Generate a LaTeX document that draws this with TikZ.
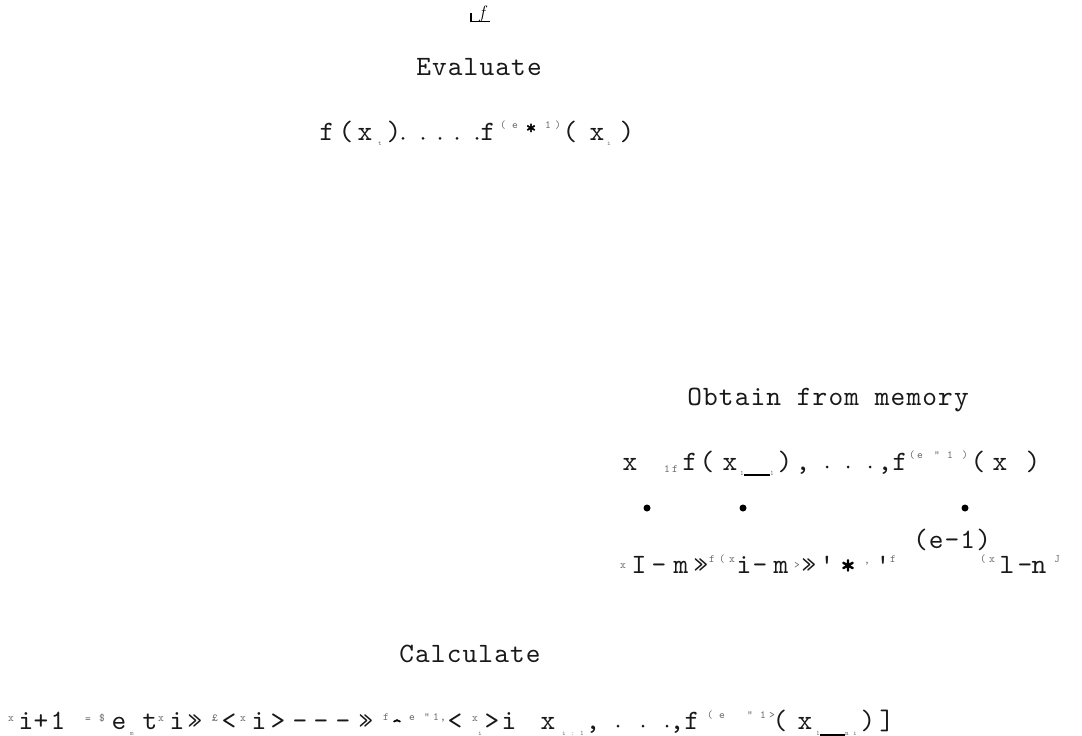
\documentclass[tikz,border=0pt]{standalone}
\usepackage{fontspec}
\newfontfamily\ocrtt{lmmono10-regular.otf}
\newfontfamily\ocrttsp[LetterSpace=4]{lmmono10-regular.otf}
\newfontfamily\ocrttb[FakeBold=2]{lmmono10-regular.otf}
\newcommand\ocrglyph[1]{\makebox[9pt]{#1}}
\begin{document}
\begin{tikzpicture}[x=1pt, y=-1pt,
  ocrword/.style = {anchor=base, inner sep=0pt, text=black!90, font=\ocrttsp\fontsize{28}{32}\selectfont},
  ocrbig/.style = {anchor=base, inner sep=0pt, text=black!90, font=\ocrtt\fontsize{28}{32}\selectfont},
  ocrsmall/.style = {anchor=base, inner sep=0pt, text=black!60, font=\ocrtt\fontsize{11}{12}\selectfont},
  ocrtiny/.style = {anchor=base, inner sep=0pt, text=black!60, font=\ocrtt\fontsize{7}{8}\selectfont},
  ocrstar/.style = {anchor=base, inner sep=0pt, font=\ocrttb\fontsize{20}{24}\selectfont},
  ocrdot/.style = {circle, fill=black, inner sep=0pt, minimum size=7pt},
  ocrperiod/.style = {circle, fill=black!90, inner sep=0pt, minimum size=3pt}
]
  \useasboundingbox (0,0) rectangle (1082,736);
  % mark at the top
  \node[anchor=base, inner sep=0pt, font=\fontsize{18}{20}\selectfont\itshape] (topf) at (482,19) {f};
  \draw[line width=1.2pt] (471,13) |- (490,21.5);
  % evaluate
  \node[ocrword] (eval) at (479,75) {Evaluate};
  \foreach \x/\c [count=\k] in {327/f,346/(,365/x,394/),488/f,570/(,597/x,627/)}
    \node[ocrbig] (ev\k) at (\x,140) {\ocrglyph{\c}};
  \foreach \x [count=\k] in {403,423,440,457,477}
    \node[ocrperiod] (evd\k) at (\x,138.4) {};
  \foreach \x/\c [count=\k] in {503/(,515/e,548/1,558/)}
    \node[ocrsmall] (evs\k) at (\x,128) {\c};
  \node[ocrstar] (evstar) at (531,134) {*};
  \node[ocrtiny] (evt) at (380,145) {t};
  \node[ocrtiny] (evi) at (609,145) {i};
  % obtain from memory
  \node[ocrword] (obtain) at (828,405) {Obtain from memory};
  \foreach \x/\c [count=\k] in {630/x,690/f,707/(,730/x,785/),803/{,},885/{,},900/f,978/(,1000/x,1033/)}
    \node[ocrbig] (ob\k) at (\x,470) {\ocrglyph{\c}};
  \foreach \x [count=\k] in {827,848,870}
    \node[ocrperiod] (obd\k) at (\x,467) {};
  \foreach \x/\c [count=\k] in {667/1,675/f}
    \node[ocrsmall] (obl\k) at (\x,472) {\c};
  \foreach \x/\c [count=\k] in {912/(,920/e,937/",950/1,965/)}
    \node[ocrsmall] (obs\k) at (\x,458) {\c};
  \foreach \x/\c [count=\k] in {742/1,772/1}
    \node[ocrtiny] (obt\k) at (\x,475) {\c};
  \draw[line width=1.4pt] (obt1.base east) -- (obt2.base west);
  \foreach \x [count=\k] in {647,743,965}
    \node[ocrdot] (bul\k) at (\x,508) {};
  \node[ocrword] (eminus) at (952,548) {(e-1)};
  \foreach \x/\c [count=\k] in {639/I,659/-,681/m,701/»,744/i,760/-,781/m,809/»,827/',883/',1007/l,1025/-,1039/n}
    \node[ocrbig] (mr\k) at (\x,573) {\ocrglyph{\c}};
  \foreach \x/\c/\y [count=\k] in {623/x/568,712/f/562,722/(/562,732/x/562,797/>/568,867/{,}/563,893/f/562,983/(/562,992/x/562,1057/J/562}
    \node[ocrsmall] (mrs\k) at (\x,\y) {\c};
  \node[ocrstar, font=\ocrttb\fontsize{28}{30}\selectfont] (mrstar) at (848,574) {*};
  % calculate
  \node[ocrword] (calc) at (470,662) {Calculate};
  \foreach \x/\c [count=\k] in {26/i,41/+,58/1,119/e,150/t,177/i,195/»,229/<,259/i,278/>,300/-,321/-,343/-,366/»,455/<,492/>,509/i,548/x,593/{,},677/{,},692/f,780/(,805/x,868/),887/]}
    \node[ocrbig] (cl\k) at (\x,729) {\ocrglyph{\c}};
  \foreach \x [count=\k] in {618,643,667}
    \node[ocrperiod] (cld\k) at (\x,726) {};
  \foreach \x/\c/\y [count=\k] in {11/x/721,88/=/722,102/\$/721,161/x/721,215/£/721,243/x/721,386/f/720,412/e/720,427/"/720,436/1/720,443/{,}/720,475/x/721,710/(/718,722/e/718,750/"/718,763/1/718,772/>/718}
    \node[ocrsmall] (cls\k) at (\x,\y) {\c};
  \foreach \x/\c [count=\k] in {132/m,480/i,564/i,573/:,582/1,818/1,847/n,855/i}
    \node[ocrtiny] (clt\k) at (\x,735) {\c};
  \draw[line width=1.4pt] (clt6.base east) -- (clt7.base west);
  \node[ocrstar] (clcaret) at (397,732) {\textasciicircum};
\end{tikzpicture}
\end{document}
